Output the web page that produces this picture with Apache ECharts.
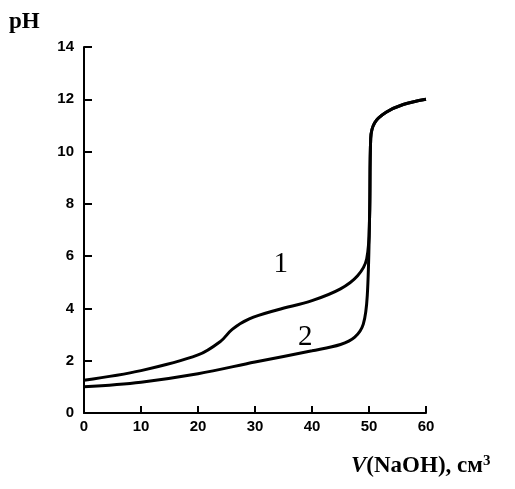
<!DOCTYPE html>
<html>
<head>
<meta charset="utf-8">
<script src="https://cdn.jsdelivr.net/npm/echarts@6/dist/echarts.min.js"></script>
<style>
  html, body { margin: 0; padding: 0; background: #fff; }
  #chart { width: 515px; height: 489px; }
</style>
</head>
<body>
<div id="chart"></div>
<script>
// Titration curves: pH versus added volume of NaOH
const curve1Volume = [0, 10, 20, 24, 26, 29, 34, 40, 45, 48, 49.6, 50.1, 50.3, 51, 53, 56, 60];
const curve1pH     = [1.25, 1.62, 2.22, 2.75, 3.2, 3.6, 3.95, 4.3, 4.75, 5.25, 5.9, 7.5, 10.5, 11.1, 11.5, 11.8, 12.0];

const curve2Volume = [0, 10, 20, 30, 40, 45, 47.5, 49, 49.7, 50.1, 50.3, 51, 53, 56, 60];
const curve2pH     = [1.0, 1.18, 1.5, 1.95, 2.38, 2.62, 2.9, 3.4, 4.5, 7.5, 10.5, 11.1, 11.5, 11.8, 12.0];

const xTicks = { min: 0, max: 60, interval: 10 };
const yTicks = { min: 0, max: 14, interval: 2 };

const curveLabels = [
  { text: '1', volume: 34.5, pH: 5.7 },
  { text: '2', volume: 38.8, pH: 2.9 }
];

function pairs(xs, ys) { return xs.map((x, i) => [x, ys[i]]); }

const chart = echarts.init(document.getElementById('chart'), null, { renderer: 'canvas' });

const tickFont = { fontFamily: 'Liberation Sans, Arial, sans-serif', fontWeight: 'bold', fontSize: 15, color: '#000' };
const curveStyle = { color: '#000', width: 3 };
const numberFont = { fontFamily: 'Liberation Serif, Times New Roman, serif', fontSize: 29, color: '#000' };

function curveMark(lbl) {
  return {
    symbol: 'rect',
    symbolSize: 2,
    itemStyle: { color: 'rgba(0,0,0,0)' },
    data: [{ coord: [lbl.volume, lbl.pH], value: lbl.text }],
    label: Object.assign({ show: true, position: 'inside', formatter: lbl.text }, numberFont)
  };
}

chart.setOption({
  animation: false,
  backgroundColor: '#fff',
  grid: { left: 84, right: 89, top: 47, bottom: 76, containLabel: false },
  xAxis: {
    type: 'value',
    min: xTicks.min, max: xTicks.max, interval: xTicks.interval,
    axisLine: { lineStyle: { color: '#000', width: 2 } },
    axisTick: { inside: true, length: 7, lineStyle: { color: '#000', width: 2 } },
    axisLabel: Object.assign({ margin: 6 }, tickFont),
    splitLine: { show: false }
  },
  yAxis: {
    type: 'value',
    min: yTicks.min, max: yTicks.max, interval: yTicks.interval,
    axisLine: { show: true, lineStyle: { color: '#000', width: 2 } },
    axisTick: { show: true, inside: true, length: 8, lineStyle: { color: '#000', width: 2 } },
    axisLabel: Object.assign({ margin: 10 }, tickFont),
    splitLine: { show: false }
  },
  series: [
    {
      type: 'line',
      data: pairs(curve1Volume, curve1pH),
      showSymbol: false,
      smooth: 0.35,
      lineStyle: curveStyle,
      z: 3,
      markPoint: curveMark(curveLabels[0])
    },
    {
      type: 'line',
      data: pairs(curve2Volume, curve2pH),
      showSymbol: false,
      smooth: 0.35,
      lineStyle: curveStyle,
      z: 3,
      markPoint: curveMark(curveLabels[1])
    }
  ],
  graphic: [
    {
      type: 'text',
      left: 9, top: 11,
      style: { text: 'pH', font: 'bold 23px "Liberation Serif", "Times New Roman", serif', fill: '#000' }
    },
    {
      type: 'text',
      left: 351, top: 454,
      style: {
        text: '{v|V}{r|(NaOH), см}{s|3}',
        rich: {
          v: { font: 'italic bold 23px "Liberation Serif", "Times New Roman", serif', fill: '#000' },
          r: { font: 'bold 23px "Liberation Serif", "Times New Roman", serif', fill: '#000' },
          s: { font: 'bold 15px "Liberation Serif", "Times New Roman", serif', fill: '#000', verticalAlign: 'top', padding: [0, 0, 9, 0] }
        }
      }
    }
  ]
});
</script>
</body>
</html>
